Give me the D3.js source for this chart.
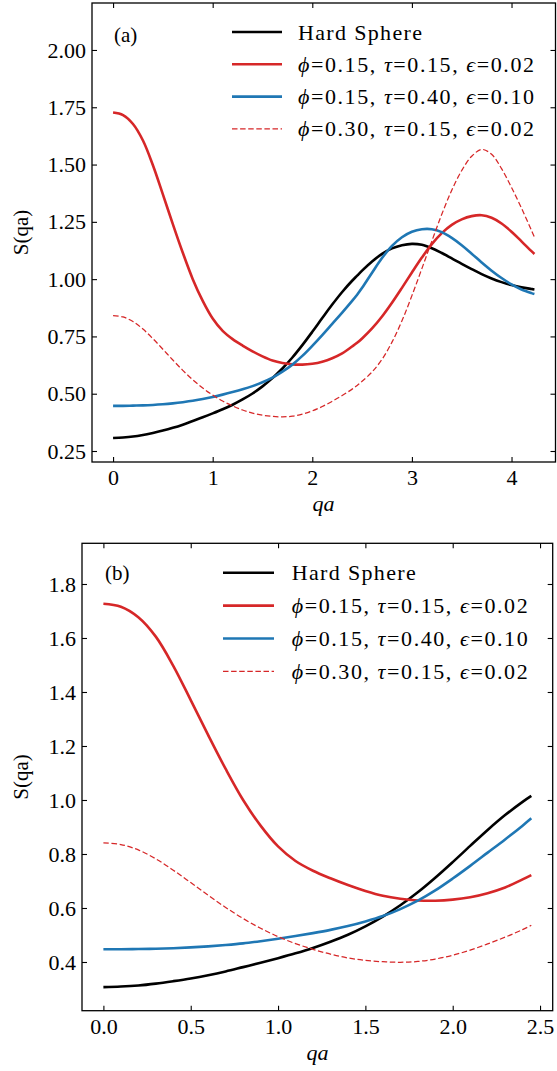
<!DOCTYPE html>
<html>
<head>
<meta charset="utf-8">
<script src="https://cdn.jsdelivr.net/npm/d3@7"></script>
<style>
html,body{margin:0;padding:0;background:#fff;}
svg{display:block;}
</style>
</head>
<body>
<svg id="chart" width="557" height="1071"></svg>
<script>
// values (same curves in both panels, (b) is a zoom on qa<=2.45)
var qa      = [0, 0.1, 0.2, 0.3, 0.4, 0.5, 0.6, 0.7, 0.8, 0.9, 1.0, 1.1, 1.2, 1.3, 1.4, 1.5, 1.6, 1.7, 1.8, 1.9, 2.0, 2.1, 2.2, 2.3, 2.4, 2.45,
               2.5, 2.6, 2.7, 2.8, 2.9, 3.0, 3.1, 3.2, 3.3, 3.4, 3.5, 3.6, 3.7, 3.8, 3.9, 4.0, 4.1, 4.2, 4.23];
var sHard   = [0.307, 0.309, 0.313, 0.320, 0.329, 0.339, 0.351, 0.365, 0.381, 0.397, 0.414, 0.432, 0.452, 0.475, 0.501, 0.532, 0.568, 0.610, 0.658, 0.712, 0.770, 0.830, 0.889, 0.944, 0.993, 1.015,
               1.037, 1.077, 1.110, 1.134, 1.148, 1.154, 1.150, 1.135, 1.114, 1.091, 1.067, 1.044, 1.022, 1.003, 0.987, 0.974, 0.964, 0.957, 0.955];
var sRed    = [1.727, 1.716, 1.677, 1.605, 1.497, 1.370, 1.240, 1.115, 1.000, 0.905, 0.828, 0.774, 0.738, 0.710, 0.685, 0.663, 0.645, 0.634, 0.628, 0.627, 0.631, 0.640, 0.655, 0.676, 0.706, 0.722,
               0.741, 0.785, 0.837, 0.897, 0.962, 1.029, 1.094, 1.153, 1.201, 1.237, 1.261, 1.275, 1.279, 1.268, 1.243, 1.207, 1.165, 1.122, 1.110];
var sBlue   = [0.447, 0.447, 0.448, 0.449, 0.451, 0.454, 0.458, 0.463, 0.469, 0.477, 0.486, 0.496, 0.507, 0.519, 0.533, 0.550, 0.570, 0.596, 0.627, 0.665, 0.709, 0.756, 0.805, 0.854, 0.905, 0.932,
               0.962, 1.028, 1.092, 1.145, 1.183, 1.207, 1.218, 1.218, 1.205, 1.180, 1.148, 1.111, 1.073, 1.037, 1.005, 0.977, 0.955, 0.939, 0.935];
var sDashed = [0.841, 0.835, 0.815, 0.782, 0.740, 0.694, 0.647, 0.602, 0.561, 0.525, 0.494, 0.468, 0.447, 0.429, 0.415, 0.406, 0.401, 0.399, 0.402, 0.411, 0.425, 0.444, 0.467, 0.492, 0.520, 0.536,
               0.554, 0.595, 0.650, 0.725, 0.818, 0.928, 1.046, 1.166, 1.283, 1.388, 1.474, 1.536, 1.566, 1.545, 1.482, 1.400, 1.310, 1.213, 1.183];

var legendLabels = ["Hard Sphere", "ϕ=0.15, τ=0.15, ϵ=0.02", "ϕ=0.15, τ=0.40, ϵ=0.10", "ϕ=0.30, τ=0.15, ϵ=0.02"];

var xTicksA = [0, 1, 2, 3, 4];
var yTicksA = [0.25, 0.50, 0.75, 1.00, 1.25, 1.50, 1.75, 2.00];
var xTicksB = [0, 0.5, 1.0, 1.5, 2.0, 2.5];
var yTicksB = [0.4, 0.6, 0.8, 1.0, 1.2, 1.4, 1.6, 1.8];

var FONT = "'Liberation Serif', 'Times New Roman', serif";

var lineStyles = [
	{stroke:"#000000", width:2.6, dash:null},
	{stroke:"#d62728", width:2.6, dash:null},
	{stroke:"#1f77b4", width:2.6, dash:null},
	{stroke:"#d62728", width:1.25, dash:"5.5,2.6"}
];

var panels = [
	{
		tag:"(a)", left:92, top:3, right:555.5, bottom:462,
		xDom:[-0.2115, 4.4415], yDom:[0.202, 2.205],
		xTicks:xTicksA, yTicks:yTicksA, xFmt:d3.format("d"), yFmt:d3.format(".2f"),
		qaMax:4.23,
		legend:{x1:232, x2:282, tx:298, y0:32, dy:32.3},
		tagPos:[114, 41.5], xlab:[323.5, 511], ylab:[28, 232.5]
	},
	{
		tag:"(b)", left:82, top:543.3, right:552.7, bottom:1010.7,
		xDom:[-0.1225, 2.5725], yDom:[0.2196, 1.9507],
		xTicks:xTicksB, yTicks:yTicksB, xFmt:d3.format(".1f"), yFmt:d3.format(".1f"),
		qaMax:2.45,
		legend:{x1:223, x2:274, tx:291.7, y0:572.7, dy:32.9},
		tagPos:[105, 579.5], xlab:[317.5, 1060], ylab:[28, 777]
	}
];

var series = [sHard, sRed, sBlue, sDashed];

function addLabel(sel, str){
	// greek letters in italic, rest upright
	var parts = str.split(/([ϕτϵ])/);
	parts.forEach(function(p){
		if(!p) return;
		var ts = sel.append("tspan").text(p);
		if(/[ϕτϵ]/.test(p)) ts.style("font-style","italic");
	});
}

function drawPanel(svg, cfg){
	var x = d3.scaleLinear().domain(cfg.xDom).range([cfg.left, cfg.right]);
	var y = d3.scaleLinear().domain(cfg.yDom).range([cfg.bottom, cfg.top]);
	var g = svg.append("g");

	var line = d3.line()
		.x(function(d){ return x(d[0]); })
		.y(function(d){ return y(d[1]); })
		.curve(d3.curveCatmullRom.alpha(0.5));

	series.forEach(function(vals, i){
		var pts = [];
		qa.forEach(function(q, k){ if(q <= cfg.qaMax + 1e-9) pts.push([q, vals[k]]); });
		var st = lineStyles[i];
		g.append("path")
			.datum(pts)
			.attr("d", line)
			.attr("fill", "none")
			.attr("stroke", st.stroke)
			.attr("stroke-width", st.width)
			.attr("stroke-linejoin", "round")
			.attr("stroke-dasharray", st.dash);
	});

	// axes, ticks inward on all four sides
	var bottomAx = g.append("g").attr("transform", "translate(0," + cfg.bottom + ")")
		.call(d3.axisBottom(x).tickValues(cfg.xTicks).tickFormat(cfg.xFmt).tickSize(-5).tickSizeOuter(0).tickPadding(7.5));
	var leftAx = g.append("g").attr("transform", "translate(" + cfg.left + ",0)")
		.call(d3.axisLeft(y).tickValues(cfg.yTicks).tickFormat(cfg.yFmt).tickSize(-5).tickSizeOuter(0).tickPadding(6));
	var topAx = g.append("g").attr("transform", "translate(0," + cfg.top + ")")
		.call(d3.axisTop(x).tickValues(cfg.xTicks).tickFormat("").tickSize(-5).tickSizeOuter(0));
	var rightAx = g.append("g").attr("transform", "translate(" + cfg.right + ",0)")
		.call(d3.axisRight(y).tickValues(cfg.yTicks).tickFormat("").tickSize(-5).tickSizeOuter(0));
	[bottomAx, leftAx, topAx, rightAx].forEach(function(a){
		a.attr("font-family", FONT).attr("font-size", 22);
		a.select(".domain").remove();
		a.selectAll("line").attr("stroke", "#000").attr("stroke-width", 1.1);
		a.selectAll("text").style("font-family", FONT).style("font-size", "22px").attr("fill", "#000");
	});

	g.append("rect")
		.attr("x", cfg.left).attr("y", cfg.top)
		.attr("width", cfg.right - cfg.left).attr("height", cfg.bottom - cfg.top)
		.attr("fill", "none").attr("stroke", "#000").attr("stroke-width", 1.3);

	// axis labels
	g.append("text")
		.attr("x", cfg.xlab[0]).attr("y", cfg.xlab[1])
		.attr("text-anchor", "middle")
		.style("font-family", FONT).style("font-size", "22px").style("font-style", "italic")
		.text("qa");
	g.append("text")
		.attr("transform", "translate(" + cfg.ylab[0] + "," + cfg.ylab[1] + ") rotate(-90)")
		.attr("text-anchor", "middle")
		.style("font-family", FONT).style("font-size", "21px")
		.text("S(qa)");

	// panel tag
	g.append("text")
		.attr("x", cfg.tagPos[0]).attr("y", cfg.tagPos[1])
		.style("font-family", FONT).style("font-size", "21px")
		.text(cfg.tag);

	// legend
	var lg = cfg.legend;
	legendLabels.forEach(function(lab, i){
		var yy = lg.y0 + i * lg.dy;
		var st = lineStyles[i];
		g.append("line")
			.attr("x1", lg.x1).attr("x2", lg.x2)
			.attr("y1", yy).attr("y2", yy)
			.attr("stroke", st.stroke)
			.attr("stroke-width", st.width)
			.attr("stroke-dasharray", st.dash);
		var t = g.append("text")
			.attr("x", lg.tx).attr("y", yy + 7.5)
			.style("font-family", FONT).style("font-size", "22px")
			.attr("textLength", i == 0 ? 124 : 236)
			.attr("lengthAdjust", "spacing");
		addLabel(t, lab);
	});
}

var svg = d3.select("#chart");
panels.forEach(function(p){ drawPanel(svg, p); });
</script>
</body>
</html>
